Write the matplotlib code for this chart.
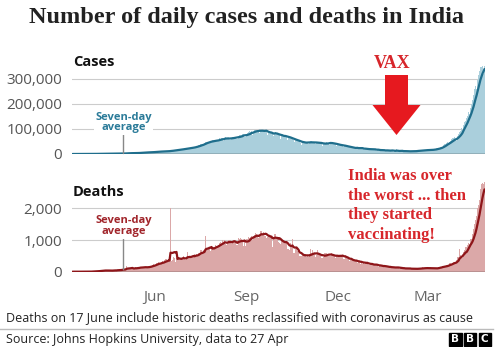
import numpy as np
import pandas as pd
import matplotlib
matplotlib.use("Agg")
import matplotlib.pyplot as plt
import matplotlib.dates as mdates
from matplotlib.patches import FancyArrow, Rectangle
from matplotlib.ticker import FuncFormatter

# daily reported figures for India, 11 Mar 2020 - 27 Apr 2021 (one row per month)
start_date = "2020-03-11"

cases = [
    12, 13, 8, 20, 25, 11, 15, 28, 27, 56, 78, 69, 103, 37, 121, 70, 159, 149, 143, 146, 601,
    545, 624, 524, 565, 489, 573, 565, 813, 871, 854, 758, 1243, 1031, 886, 1061, 922, 1371, 1580, 1239, 1537,
    1292, 1667, 1408, 1835, 1607, 1561, 1873, 1738, 1801, 1897,
    2396, 2564, 2952, 3656, 2971, 3587, 3364, 3344, 3339, 4311, 3592, 3562, 3726, 3941, 3787, 4864, 5049, 4630,
    6147, 5553, 6198, 6568, 6629, 7111, 6414, 6387, 6566, 7466, 7964, 8380, 8392,
    8171, 8909, 9304, 9851, 9887, 9971, 9983, 9987, 9985, 10956, 11458, 11929, 11502, 10667, 10032, 12881,
    13586, 14516, 15413, 14821, 14933, 15968, 16922, 17296, 18552, 19906, 19459, 18522, 18653, 19148,
    20903, 22771, 24850, 24248, 22252, 22752, 24879, 26506, 27114, 28637, 28701, 28498, 29429, 32695, 34956,
    34884, 38902, 40425, 37148, 37724, 45720, 49310, 48916, 48661, 49931, 47704, 48513, 52123, 55078, 57118, 54735,
    52972, 52050, 52509, 56282, 62538, 61537, 64399, 62064, 53601, 60963, 66999, 64553, 65002, 63490, 57981,
    55079, 64531, 69652, 68898, 69878, 69239, 61408, 60975, 67151, 75760, 77266, 76472, 78761, 78512, 68766, 69921,
    78357, 83883, 86432, 90632, 86432, 90802, 75809, 89706, 95735, 96551, 97570, 94372, 92071, 83809, 90123,
    97894, 96424, 93337, 92605, 94612, 86961, 75083, 83347, 86508, 85362, 88600, 82170, 70589, 80472, 86821,
    81484, 79476, 75829, 74442, 61267, 72049, 78524, 70496, 73272, 74383, 66732, 55342, 63509, 67708, 63371,
    62212, 61871, 55722, 46790, 54044, 55839, 54366, 53370, 50129, 45149, 36469, 43893, 49881, 48648, 48268, 46963,
    46964, 38310, 46253, 50210, 50357, 47638, 45674, 45903, 38073, 44281, 47905, 48648, 44879, 44684, 41100,
    30548, 38617, 45576, 45882, 46232, 45209, 44059, 37975, 44376, 44489, 43082, 41322, 41810, 38772, 31118,
    36604, 35551, 36595, 36652, 36011, 32981, 26567, 32080, 31521, 29398, 30006, 30254, 27071, 22065, 26382,
    24010, 22890, 22889, 25153, 26624, 24337, 19556, 23950, 24712, 23067, 22273, 18732, 16432, 20549, 21822, 20035,
    19079, 20035, 18177, 16504, 18088, 20346, 18139, 18222, 12584, 16946, 16311, 12584, 15968, 16946, 15590,
    15158, 13788, 10064, 13823, 15223, 14545, 14256, 13203, 14849, 13203, 9102, 12689, 11666, 18855, 13083, 11527,
    8635, 11039, 12899, 12408, 11713, 11831, 12059, 9110, 9093, 11067, 12923, 9309, 12143, 11649, 9121,
    11610, 12881, 13193, 13993, 13993, 14264, 10584, 13742, 16738, 16577, 16488, 16752, 15510,
    12286, 14989, 17407, 16838, 18327, 18711, 18599, 15388, 17921, 22854, 23285, 24882, 25320, 26291, 24492,
    28903, 35871, 39726, 40953, 43846, 46951, 40715, 47262, 53476, 59118, 62258, 62714, 68020, 56211, 53480, 72330,
    81466, 89129, 92994, 103558, 96982, 115736, 126789, 131968, 145384, 152879, 168912, 161736, 184372, 200739,
    217353, 234692, 261500, 273810, 259170, 295041, 314835, 332730, 346786, 349691, 352991, 319435, 362727,
]

deaths = [
    0, 1, 0, 1, 0, 0, 1, 0, 1, 1, 0, 3, 2, 1, 2, 3, 4, 4, 5, 3, 12,
    9, 12, 20, 17, 13, 32, 25, 33, 39, 40, 34, 42, 45, 29, 38, 27, 40, 22, 42, 44, 50, 53, 36, 37, 57, 52, 62, 60, 71, 73,
    75, 65, 83, 195, 128, 89, 103, 95, 109, 111, 87, 122, 134, 100, 120, 121, 157, 148, 132, 140,
    131, 148, 137, 142, 147, 146, 170, 175, 194, 205, 230,
    204, 217, 260, 273, 294, 287, 258, 266, 331, 279, 357, 396, 386, 325, 380, 343, 2003, 336, 375, 465,
    426, 312, 445, 465, 418, 407, 380, 410, 418, 507,
    434, 379, 442, 613, 425, 467, 482, 487, 475, 519, 551, 500, 553, 506, 582, 606, 687, 671, 543, 681,
    587, 1130, 740, 757, 705, 708, 654, 768, 775, 779, 764,
    853, 803, 771, 857, 904, 933, 886, 1007, 871, 1007, 871, 834, 942, 1000, 1007, 941, 876, 944, 977, 983,
    912, 836, 848, 1059, 1023, 1057, 1021, 948, 819, 971, 819,
    1043, 1045, 1096, 1065, 1089, 1133, 1016, 1115, 1172, 1209, 1201, 1114, 1054, 1132, 1283, 1290, 1174, 1247,
    1133, 1130, 1053, 1085, 1129, 1141, 1089, 1124, 776, 1039, 1179, 1181,
    1095, 1069, 940, 903, 884, 986, 971, 963, 926, 895, 918, 706, 730, 680, 895, 837, 1033, 579, 587, 717,
    706, 650, 578, 480, 488, 480, 517, 543, 563, 551, 470,
    496, 470, 488, 704, 577, 670, 559, 577, 449, 512, 673, 547, 559, 482, 434, 447, 474, 584, 585, 587,
    562, 511, 480, 488, 585, 524, 518, 496, 443, 482,
    482, 540, 540, 524, 482, 511, 391, 402, 512, 442, 417, 391, 336, 355, 387, 355, 341, 347, 340, 333,
    279, 306, 336, 251, 341, 251, 279, 251, 286, 299, 251,
    224, 214, 215, 234, 264, 201, 222, 228, 201, 175, 161, 201, 202, 191, 175, 145, 181, 137, 162, 151,
    163, 127, 138, 131, 126, 137, 123, 151, 138, 130, 127,
    94, 107, 110, 107, 107, 120, 83, 94, 87, 127, 110, 87, 78, 90, 77, 78, 113, 101, 103, 87,
    87, 113, 104, 138, 108, 113, 113, 106,
    112, 98, 124, 133, 99, 97, 88, 100, 106, 126, 126, 140, 134, 161, 131, 188, 172, 188, 154, 197,
    212, 199, 275, 275, 257, 271, 291, 312, 271, 354, 459,
    469, 714, 513, 478, 446, 630, 685, 780, 794, 839, 904, 879, 1027, 1038, 1185, 1341, 1501, 1620, 1761, 2023,
    2104, 2263, 2624, 2767, 2812, 2771, 2840,
]

case_ticks = [0, 100000, 200000, 300000]
death_ticks = [0, 1000, 2000]
month_ticks = ["2020-06-01", "2020-09-01", "2020-12-01", "2021-03-01"]
label_date = "2020-05-01"

cases_s = pd.Series(cases, index=pd.date_range(start_date, periods=len(cases), freq="D"))
deaths_s = pd.Series(deaths, index=pd.date_range(start_date, periods=len(deaths), freq="D"))
cases_avg = cases_s.rolling(7, min_periods=1).mean()
deaths_avg = deaths_s.rolling(7, min_periods=1).mean()

plt.rcParams["font.family"] = ["Open Sans", "DejaVu Sans"]

fig = plt.figure(figsize=(5.0, 3.47), dpi=100)
fig.patch.set_facecolor("white")

ax1 = fig.add_axes([0.144, 0.5562, 0.826, 0.2536])
ax2 = fig.add_axes([0.144, 0.2170, 0.826, 0.2648])

# axes, daily, average, ticks, y max, bar colour, line colour, label colour, title, title y (px), label height
panels = [
    (ax1, cases_s, cases_avg, case_ticks, 352000, "#aacfdc", "#1f6e8c", "#2b7b99", "Cases", 62, 82000),
    (ax2, deaths_s, deaths_avg, death_ticks, 2900, "#dba8a8", "#8e1519", "#a1252b", "Deaths", 192, 1100),
]

xmin = cases_s.index[0] - pd.Timedelta(hours=12)
xmax = cases_s.index[-1] + pd.Timedelta(hours=12)

for ax, daily, avg, ticks, top, bar_c, line_c, lab_c, name, name_y, lab_y in panels:
    ax.bar(daily.index, daily.values, width=1.0, color=bar_c, linewidth=0, zorder=1)
    ax.plot(avg.index, avg.values, color=line_c, lw=1.6, zorder=3, solid_capstyle="round")
    ax.axhline(0, color="#333333", lw=1.0, zorder=2)
    ax.set_xlim(xmin, xmax)
    ax.set_ylim(0, top)
    ax.set_yticks(ticks)
    ax.yaxis.set_major_formatter(FuncFormatter(lambda v, p: f"{int(v):,}"))
    ax.grid(axis="y", color="#cccccc", lw=0.8, zorder=0)
    ax.set_axisbelow(True)
    for s in ax.spines.values():
        s.set_visible(False)
    ax.tick_params(axis="y", length=0, pad=7, labelsize=11, labelcolor="#555555")
    ax.tick_params(axis="x", length=0)
    fig.text(0.146, 1 - name_y / 347, name, fontsize=10.5, fontweight="bold",
             color="#111111", ha="left", va="center")

    # seven-day average label with a pointer down to the line
    d = pd.Timestamp(label_date)
    ax.annotate("Seven-day\naverage", xy=(d, avg[d]), xytext=(d, lab_y),
                ha="center", va="bottom", fontsize=8, fontweight="bold", color=lab_c,
                linespacing=0.95, zorder=4,
                bbox=dict(boxstyle="square,pad=0.15", fc="white", ec="none"),
                arrowprops=dict(arrowstyle="-", color="#888888", lw=1.0, shrinkA=0, shrinkB=0))

ax1.set_xticks([])
ax2.set_xticks(pd.to_datetime(month_ticks))
ax2.xaxis.set_major_formatter(mdates.DateFormatter("%b"))
ax2.tick_params(axis="x", pad=13, labelsize=11, labelcolor="#666666")

fig.text(0.493, 1 - 18 / 347, "Number of daily cases and deaths in India",
         family="Liberation Serif", fontweight="bold", fontsize=17.5, color="#222222",
         ha="center", va="center")

# VAX arrow
fig.text(0.784, 1 - 64 / 347, "VAX", family="Liberation Serif", fontweight="bold",
         fontsize=13, color="#d7262b", ha="center", va="center")
fig.add_artist(FancyArrow(3.965, 2.72, 0, -0.60, width=0.23, head_width=0.48, head_length=0.30,
                          length_includes_head=True, color="#e6191f", lw=0,
                          transform=fig.dpi_scale_trans))

fig.text(0.696, 1 - 168 / 347, "India was over\nthe worst ... then\nthey started\nvaccinating!",
         family="Liberation Serif", fontweight="bold", fontsize=12, color="#d7262b",
         ha="left", va="top", linespacing=1.3)

fig.text(0.012, 1 - 318 / 347,
         "Deaths on 17 June include historic deaths reclassified with coronavirus as cause",
         fontsize=9, color="#222222", ha="left", va="center")
fig.add_artist(plt.Line2D([0.0, 0.985], [1 - 329 / 347] * 2, color="#bbbbbb", lw=1.0,
                          transform=fig.transFigure))
fig.text(0.012, 1 - 340 / 347, "Source: Johns Hopkins University, data to 27 Apr",
         fontsize=9, color="#222222", ha="left", va="center")

# BBC logo blocks
for i, letter in enumerate("BBC"):
    x0 = 0.898 + i * 0.0295
    fig.add_artist(Rectangle((x0, 1 - 345.5 / 347), 0.025, 12.5 / 347, color="black",
                             transform=fig.transFigure))
    fig.text(x0 + 0.0125, 1 - 339.3 / 347, letter, family="DejaVu Sans", fontweight="bold",
             fontsize=7.5, color="white", ha="center", va="center")

fig.savefig("out.png", dpi=100, facecolor="white")
